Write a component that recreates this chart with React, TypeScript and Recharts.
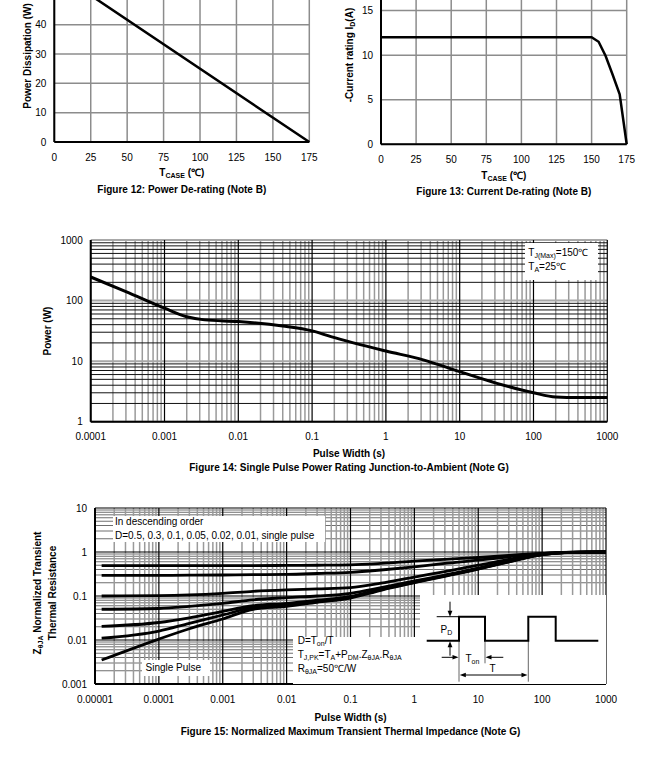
import React from 'react';
import { LineChart, Line, XAxis, YAxis, CartesianGrid, ReferenceLine } from 'recharts';

// Figure 12: power de-rating
const fig12Temp = [0, 25, 175];
const fig12Power = [58.3, 50, 0];
const fig12XTicks = [0, 25, 50, 75, 100, 125, 150, 175];
const fig12YTicks = [0, 10, 20, 30, 40, 50, 60];
// the top two ticks sit above the page edge, so they carry no text
const fig12YLabels = ['0', '10', '20', '30', '40', '', ''];

// Figure 13: current de-rating
const fig13Temp = [0, 25, 50, 75, 100, 125, 150, 155, 160, 165, 170, 175];
const fig13Current = [12, 12, 12, 12, 12, 12, 12, 11.5, 9.9, 7.8, 5.6, 0];
const fig13XTicks = [0, 25, 50, 75, 100, 125, 150, 175];
const fig13YTicks = [0, 5, 10, 15, 20];
const fig13YLabels = ['0', '5', '10', '15', ''];

// Figure 14: single pulse power rating
const fig14Width = [0.0001, 0.0003, 0.001, 0.002, 0.0035, 0.01, 0.04, 0.1, 0.18, 1, 3.2, 10, 32, 100, 200, 400, 1000];
const fig14Power = [245, 141, 75, 54, 48, 45, 38, 31.6, 25.4, 14.7, 10.5, 6.7, 4.3, 3.0, 2.55, 2.5, 2.5];
const fig14XTicks = [0.0001, 0.001, 0.01, 0.1, 1, 10, 100, 1000];
const fig14XLabels = ['0.0001', '0.001', '0.01', '0.1', '1', '10', '100', '1000'];
const fig14YTicks = [1, 10, 100, 1000];
const fig14YLabels = ['1', '10', '100', '1000'];

// Figure 15: normalized transient thermal impedance
const fig15Width = [0.0000127, 0.0001, 0.0003, 0.001, 0.003, 0.01, 0.03, 0.1, 0.3, 1, 3, 10, 30, 100, 300, 1000];
const fig15D50 = [0.49, 0.49, 0.49, 0.49, 0.49, 0.495, 0.5, 0.51, 0.55, 0.62, 0.68, 0.75, 0.84, 0.93, 0.99, 1.0];
const fig15D30 = [0.295, 0.295, 0.297, 0.3, 0.305, 0.31, 0.325, 0.345, 0.39, 0.46, 0.55, 0.65, 0.78, 0.92, 0.99, 1.0];
const fig15D10 = [0.1, 0.102, 0.106, 0.115, 0.128, 0.138, 0.145, 0.155, 0.195, 0.27, 0.36, 0.5, 0.68, 0.9, 0.98, 1.0];
const fig15D05 = [0.05, 0.052, 0.058, 0.068, 0.082, 0.092, 0.1, 0.115, 0.155, 0.22, 0.3, 0.43, 0.62, 0.88, 0.98, 1.0];
const fig15D02 = [0.0205, 0.025, 0.032, 0.045, 0.06, 0.068, 0.08, 0.098, 0.145, 0.21, 0.29, 0.42, 0.61, 0.87, 0.98, 1.0];
const fig15D01 = [0.011, 0.016, 0.024, 0.037, 0.055, 0.063, 0.076, 0.094, 0.14, 0.205, 0.285, 0.415, 0.6, 0.87, 0.98, 1.0];
const fig15Single = [0.0035, 0.0105, 0.018, 0.03, 0.05, 0.058, 0.072, 0.09, 0.135, 0.2, 0.28, 0.41, 0.6, 0.87, 0.98, 1.0];
const fig15XTicks = [0.00001, 0.0001, 0.001, 0.01, 0.1, 1, 10, 100, 1000];
const fig15XLabels = ['0.00001', '0.0001', '0.001', '0.01', '0.1', '1', '10', '100', '1000'];
const fig15YTicks = [0.001, 0.01, 0.1, 1, 10];
const fig15YLabels = ['0.001', '0.01', '0.1', '1', '10'];
const fig15Keys = ['d50', 'd30', 'd10', 'd05', 'd02', 'd01', 'single'];

const fig12Data = fig12Temp.map((t, i) => ({ t, p: fig12Power[i] }));
const fig13Data = fig13Temp.map((t, i) => ({ t, i: fig13Current[i] }));
const fig14Data = fig14Width.map((t, i) => ({ t, p: fig14Power[i] }));
const fig15Data = fig15Width.map((t, i) => ({
  t,
  d50: fig15D50[i],
  d30: fig15D30[i],
  d10: fig15D10[i],
  d05: fig15D05[i],
  d02: fig15D02[i],
  d01: fig15D01[i],
  single: fig15Single[i],
}));

const FONT = '"Liberation Sans", Arial, Helvetica, sans-serif';
const tickStyle = { fontSize: 10, fill: '#000', fontFamily: FONT };
const axisLine = { stroke: '#000', strokeWidth: 2 };

// grid positions for log axes: decades and 2..9 inside each decade
function logLines(lo: number, hi: number) {
  const major: number[] = [];
  const minor: number[] = [];
  for (let e = lo; e <= hi; e++) {
    major.push(Number(`1e${e}`));
    if (e < hi) for (let m = 2; m <= 9; m++) minor.push(Number(`${m}e${e}`));
  }
  return { major, minor };
}

const Sub = ({ children }: { children: React.ReactNode }) => (
  <span style={{ fontSize: 7, verticalAlign: '-2px' }}>{children}</span>
);

type TxtProps = {
  x: number;
  y: number;
  children: React.ReactNode;
  bold?: boolean;
  rotate?: boolean;
  left?: boolean;
};

const Txt = ({ x, y, children, bold, rotate, left }: TxtProps) => (
  <div
    style={{
      position: 'absolute',
      left: x,
      top: y,
      transform: `translate(${left ? '0' : '-50%'},-50%)${rotate ? ' rotate(-90deg)' : ''}`,
      whiteSpace: 'nowrap',
      fontSize: 10,
      lineHeight: '12px',
      fontWeight: bold ? 'bold' : 'normal',
      color: '#000',
    }}
  >
    {children}
  </div>
);

const Box = ({ x, y, w, h }: { x: number; y: number; w: number; h: number }) => (
  <div style={{ position: 'absolute', left: x, top: y, width: w, height: h, background: '#fff' }} />
);

const Fig12 = () => (
  <div style={{ position: 'absolute', left: 0, top: -44.5 }}>
    <LineChart width={330} height={216} data={fig12Data} margin={{ top: 10, right: 20.7, bottom: 0, left: 0 }}>
      <CartesianGrid stroke="#8c8c8c" strokeWidth={1.5} />
      <XAxis dataKey="t" type="number" domain={[0, 175]} ticks={fig12XTicks} interval={0} tickLine={false}
        tickMargin={5.5} tick={tickStyle} axisLine={axisLine} height={30} />
      <YAxis type="number" domain={[0, 60]} ticks={fig12YTicks} interval={0} tickLine={false}
        tickFormatter={(_v: number, i: number) => fig12YLabels[i]}
        tick={tickStyle} axisLine={axisLine} width={54.3} />
      <Line type="linear" dataKey="p" stroke="#000" strokeWidth={2.5} dot={false} isAnimationActive={false} />
    </LineChart>
  </div>
);

const Fig13 = () => (
  <div style={{ position: 'absolute', left: 330, top: -44.3 }}>
    <LineChart width={330} height={218.3} data={fig13Data} margin={{ top: 10, right: 33.3, bottom: 0, left: 0 }}>
      <CartesianGrid stroke="#8c8c8c" strokeWidth={1.5} />
      <XAxis dataKey="t" type="number" domain={[0, 175]} ticks={fig13XTicks} interval={0} tickLine={false}
        tickMargin={5.5} tick={tickStyle} axisLine={axisLine} height={30} />
      <YAxis type="number" domain={[0, 20]} ticks={fig13YTicks} interval={0} tickLine={false}
        tickFormatter={(_v: number, i: number) => fig13YLabels[i]}
        tick={tickStyle} axisLine={axisLine} width={51} />
      <Line type="linear" dataKey="i" stroke="#000" strokeWidth={2.5} dot={false} isAnimationActive={false} />
    </LineChart>
  </div>
);

const fig14X = logLines(-4, 3);
const fig14Y = logLines(0, 3);

const Fig14 = () => (
  <div style={{ position: 'absolute', left: 0, top: 230 }}>
    <LineChart width={660} height={221.7} data={fig14Data} margin={{ top: 10, right: 52.7, bottom: 0, left: 0 }}>
      {fig14X.minor.map((v) => (
        <ReferenceLine key={`xm${v}`} x={v} stroke="#9a9a9a" strokeWidth={1.5} />
      ))}
      {fig14Y.minor.map((v) => (
        <ReferenceLine key={`ym${v}`} y={v} stroke="#111" strokeWidth={1} />
      ))}
      {fig14Y.major.map((v) => (
        <ReferenceLine key={`yM${v}`} y={v} stroke="#a8a8a8" strokeWidth={2} />
      ))}
      {fig14X.major.map((v) => (
        <ReferenceLine key={`xM${v}`} x={v} stroke="#000" strokeWidth={1.2} />
      ))}
      <XAxis dataKey="t" type="number" scale="log" domain={[0.0001, 1000]} ticks={fig14XTicks} interval={0}
        tickFormatter={(_v: number, i: number) => fig14XLabels[i]} tickLine={false} tickMargin={5.5}
        tick={tickStyle} axisLine={axisLine} height={30} allowDataOverflow />
      <YAxis type="number" scale="log" domain={[1, 1000]} ticks={fig14YTicks} interval={0}
        tickFormatter={(_v: number, i: number) => fig14YLabels[i]} tickLine={false}
        tick={tickStyle} axisLine={axisLine} width={90.7} allowDataOverflow />
      <Line type="monotone" dataKey="p" stroke="#000" strokeWidth={3} dot={false} isAnimationActive={false} />
    </LineChart>
  </div>
);

const fig15X = logLines(-5, 3);
const fig15Y = logLines(-3, 1);

const Fig15 = () => (
  <div style={{ position: 'absolute', left: 0, top: 498.3 }}>
    <LineChart width={660} height={216} data={fig15Data} margin={{ top: 10, right: 54, bottom: 0, left: 0 }}>
      {fig15Y.minor.map((v) => (
        <ReferenceLine key={`ym${v}`} y={v} stroke="#6e6e6e" strokeWidth={1} />
      ))}
      {fig15X.minor.map((v) => (
        <ReferenceLine key={`xm${v}`} x={v} stroke="#9a9a9a" strokeWidth={1.5} />
      ))}
      {fig15Y.major.map((v) => (
        <ReferenceLine key={`yM${v}`} y={v} stroke="#000" strokeWidth={1.2} />
      ))}
      {fig15X.major.map((v) => (
        <ReferenceLine key={`xM${v}`} x={v} stroke="#000" strokeWidth={1.2} />
      ))}
      <XAxis dataKey="t" type="number" scale="log" domain={[0.00001, 1000]} ticks={fig15XTicks} interval={0}
        tickFormatter={(_v: number, i: number) => fig15XLabels[i]} tickLine={false} tickMargin={5.5}
        tick={tickStyle} axisLine={axisLine} height={30} allowDataOverflow />
      <YAxis type="number" scale="log" domain={[0.001, 10]} ticks={fig15YTicks} interval={0}
        tickFormatter={(_v: number, i: number) => fig15YLabels[i]} tickLine={false}
        tick={tickStyle} axisLine={axisLine} width={95} allowDataOverflow />
      {fig15Keys.map((k) => (
        <Line key={k} type="monotone" dataKey={k} stroke="#000" strokeWidth={2.8} dot={false} isAnimationActive={false} />
      ))}
    </LineChart>
  </div>
);

// duty-cycle sketch in the lower right of figure 15
const PulseInset = () => (
  <svg width={186} height={89.3} style={{ position: 'absolute', left: 420, top: 595, background: '#fff' }}>
    <line x1={39} y1={45.7} x2={39} y2={86.7} stroke="#666" strokeWidth={1} />
    <line x1={65} y1={45.7} x2={65} y2={68.3} stroke="#666" strokeWidth={1} />
    <line x1={108.3} y1={45.7} x2={108.3} y2={86.7} stroke="#666" strokeWidth={1} />
    <line x1={16.7} y1={21.7} x2={39} y2={21.7} stroke="#000" strokeWidth={1} />
    <path d="M6.7 45.7H39V21.7H65V45.7H108.3V21.7H135.7V45.7H178.3" fill="none" stroke="#000" strokeWidth={2} />
    <line x1={30} y1={6.7} x2={30} y2={17} stroke="#000" strokeWidth={1} />
    <polygon points="30,21.7 27.6,15.7 32.4,15.7" fill="#000" />
    <line x1={30} y1={60.7} x2={30} y2={50} stroke="#000" strokeWidth={1} />
    <polygon points="30,46.2 27.6,52.2 32.4,52.2" fill="#000" />
    <line x1={21.7} y1={62.3} x2={34} y2={62.3} stroke="#000" strokeWidth={1} />
    <polygon points="38.5,62.3 32.5,60 32.5,64.6" fill="#000" />
    <line x1={83.3} y1={62.3} x2={70} y2={62.3} stroke="#000" strokeWidth={1} />
    <polygon points="65.5,62.3 71.5,60 71.5,64.6" fill="#000" />
    <line x1={45} y1={80} x2={102} y2={80} stroke="#000" strokeWidth={1} />
    <polygon points="39.8,80 45.8,77.7 45.8,82.3" fill="#000" />
    <polygon points="107.5,80 101.5,77.7 101.5,82.3" fill="#000" />
    <text x={20.5} y={37.5} fontSize={10} fontFamily={FONT}>
      P<tspan fontSize={7} dy={2}>D</tspan>
    </text>
    <text x={45.5} y={67} fontSize={10} fontFamily={FONT}>
      T<tspan fontSize={7} dy={2}>on</tspan>
    </text>
    <text x={69.5} y={77} fontSize={10} fontFamily={FONT}>T</text>
  </svg>
);

export default function App() {
  return (
    <div
      style={{
        position: 'absolute',
        left: 0,
        top: 0,
        width: 660,
        height: 775,
        overflow: 'hidden',
        background: '#fff',
        fontFamily: FONT,
      }}
    >
      <Fig12 />
      <Txt x={27.7} y={55.5} bold rotate>Power Dissipation (W)</Txt>
      <Txt x={181.8} y={174} bold>T<Sub>CASE</Sub> (℃)</Txt>
      <Txt x={181.8} y={190} bold>Figure 12: Power De-rating (Note B)</Txt>

      <Fig13 />
      <Txt x={350.7} y={55} bold rotate>-Current rating I<Sub>D</Sub>(A)</Txt>
      <Txt x={503.8} y={176.7} bold>T<Sub>CASE</Sub> (℃)</Txt>
      <Txt x={503.8} y={192} bold>Figure 13: Current De-rating (Note B)</Txt>

      <Fig14 />
      <Box x={525} y={243.3} w={73.3} h={36.7} />
      <Txt x={528.3} y={254.3} left>T<Sub>J(Max)</Sub>=150℃</Txt>
      <Txt x={528.3} y={268.3} left>T<Sub>A</Sub>=25℃</Txt>
      <Txt x={47.7} y={331} bold rotate>Power (W)</Txt>
      <Txt x={349} y={454} bold>Pulse Width (s)</Txt>
      <Txt x={349} y={468} bold>Figure 14: Single Pulse Power Rating Junction-to-Ambient (Note G)</Txt>

      <Fig15 />
      <Box x={112.7} y={515.5} w={212} h={26.5} />
      <Txt x={115} y={522.3} left>In descending order</Txt>
      <Txt x={115} y={535.7} left>D=0.5, 0.3, 0.1, 0.05, 0.02, 0.01, single pulse</Txt>
      <Box x={141.7} y={660} w={68.3} h={16} />
      <Txt x={173.3} y={667.7}>Single Pulse</Txt>
      <Box x={293.3} y={636.7} w={126.7} h={47.6} />
      <Txt x={297.7} y={641.7} left>D=T<Sub>on</Sub>/T</Txt>
      <Txt x={297.7} y={656} left>
        T<Sub>J,PK</Sub>=T<Sub>A</Sub>+P<Sub>DM</Sub>.Z<Sub>θJA</Sub>.R<Sub>θJA</Sub>
      </Txt>
      <Txt x={297.7} y={670} left>R<Sub>θJA</Sub>=50℃/W</Txt>
      <PulseInset />
      <Txt x={39.3} y={593} bold rotate>Z<Sub>θJA</Sub> Normalized Transient</Txt>
      <Txt x={53.3} y={593} bold rotate>Thermal Resistance</Txt>
      <Txt x={350.5} y={717.7} bold>Pulse Width (s)</Txt>
      <Txt x={350.5} y={731.7} bold>Figure 15: Normalized Maximum Transient Thermal Impedance (Note G)</Txt>
    </div>
  );
}
